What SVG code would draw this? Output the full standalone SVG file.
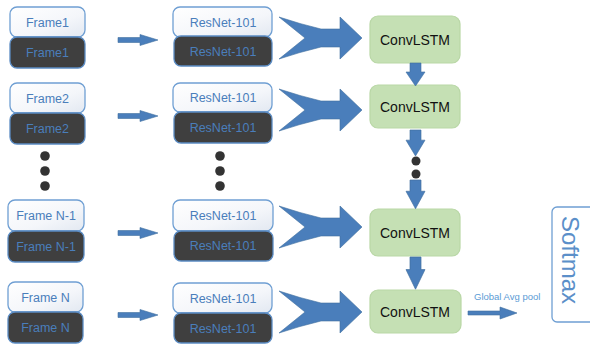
<svg xmlns="http://www.w3.org/2000/svg" width="590" height="345" viewBox="0 0 590 345">
<defs>
<linearGradient id="wg" x1="0" y1="0" x2="1" y2="1">
<stop offset="0" stop-color="#ffffff"/>
<stop offset="0.6" stop-color="#f4f6fa"/>
<stop offset="1" stop-color="#e2e8f1"/>
</linearGradient>
<path id="chev" d="M279,-21 Q300,-14 321,-9 L340,-9 L340,-21 L362,0 L340,21 L340,9 L321,9 Q300,14 279,21 L305,0 Z"/>
<path id="sarrow" d="M118,-2.5 L140,-2.5 L140,-5.5 L158,0 L140,5.5 L140,2.5 L118,2.5 Z"/>
<path id="varrow" d="M-5.5,0 L5.5,0 L5.5,9 L9.5,9 L0,23 L-9.5,9 L-5.5,9 Z"/>
</defs>
<style>
.wbox{fill:url(#wg);stroke:#6f9fd3;stroke-width:1.3}
.dbox{fill:#3f3f3f;stroke:#5b8cc4;stroke-width:1.3}
.lbl{font-family:"Liberation Sans",Arial,sans-serif;font-size:12.5px;fill:#4a7ebb;text-anchor:middle}
.conv{fill:#c5e0b4;stroke:#b9d7a6;stroke-width:1.2}
.clbl{font-family:"Liberation Sans",Arial,sans-serif;font-size:14px;fill:#111;text-anchor:middle}
.blue{fill:#4a7ebb;stroke:#41709f;stroke-width:0.6}
.dot{fill:#333}
</style>

<g id="frame1">
<rect class="wbox" x="10" y="7" width="75" height="30" rx="7"/>
<rect class="dbox" x="10" y="37" width="75" height="31" rx="7"/>
<text class="lbl" x="47.5" y="27">Frame1</text>
<text class="lbl" x="47.5" y="57">Frame1</text>
</g>
<g id="frame2">
<rect class="wbox" x="10" y="83" width="75" height="30" rx="7"/>
<rect class="dbox" x="10" y="113" width="75" height="31" rx="7"/>
<text class="lbl" x="47.5" y="103">Frame2</text>
<text class="lbl" x="47.5" y="133">Frame2</text>
</g>
<g id="frameN1">
<rect class="wbox" x="8" y="200" width="76" height="31" rx="7"/>
<rect class="dbox" x="8" y="231" width="76" height="31" rx="7"/>
<text class="lbl" x="46" y="220">Frame N-1</text>
<text class="lbl" x="46" y="251">Frame N-1</text>
</g>
<g id="frameN">
<rect class="wbox" x="8" y="282" width="75" height="30" rx="7"/>
<rect class="dbox" x="8" y="312" width="75" height="31" rx="7"/>
<text class="lbl" x="45.5" y="302">Frame N</text>
<text class="lbl" x="45.5" y="332">Frame N</text>
</g>

<g id="res1">
<rect class="wbox" x="173" y="7" width="99" height="30" rx="7"/>
<rect class="dbox" x="174" y="36" width="98" height="30" rx="7"/>
<text class="lbl" x="223" y="27">ResNet-101</text>
<text class="lbl" x="223" y="56">ResNet-101</text>
</g>
<g id="res2">
<rect class="wbox" x="173" y="83" width="99" height="29" rx="7"/>
<rect class="dbox" x="174" y="112" width="98" height="31" rx="7"/>
<text class="lbl" x="223" y="102">ResNet-101</text>
<text class="lbl" x="223" y="132">ResNet-101</text>
</g>
<g id="res3">
<rect class="wbox" x="173" y="200" width="100" height="31" rx="7"/>
<rect class="dbox" x="174" y="231" width="99" height="30" rx="7"/>
<text class="lbl" x="223" y="220">ResNet-101</text>
<text class="lbl" x="223" y="250">ResNet-101</text>
</g>
<g id="res4">
<rect class="wbox" x="173" y="283" width="99" height="30" rx="7"/>
<rect class="dbox" x="174" y="313" width="98" height="30" rx="7"/>
<text class="lbl" x="223" y="303">ResNet-101</text>
<text class="lbl" x="223" y="333">ResNet-101</text>
</g>

<g id="conv1">
<rect class="conv" x="370" y="16" width="90" height="47" rx="8"/>
<text class="clbl" x="415" y="45">ConvLSTM</text>
</g>
<g id="conv2">
<rect class="conv" x="370" y="85" width="90" height="43" rx="8"/>
<text class="clbl" x="415" y="112">ConvLSTM</text>
</g>
<g id="conv3">
<rect class="conv" x="370" y="209" width="90" height="47" rx="8"/>
<text class="clbl" x="415" y="238">ConvLSTM</text>
</g>
<g id="conv4">
<rect class="conv" x="370" y="290" width="91" height="43" rx="8"/>
<text class="clbl" x="415" y="317">ConvLSTM</text>
</g>

<g id="softmax">
<rect x="552" y="207" width="50" height="115" rx="5" fill="#fff" stroke="#6f9fd3" stroke-width="1.3"/>
<text x="570" y="260" transform="rotate(90 570 260)" font-family="'Liberation Sans',Arial,sans-serif" font-size="24" fill="#5b8fc9" text-anchor="middle" dominant-baseline="central">Softmax</text>
</g>

<g id="dots">
<circle class="dot" cx="45" cy="156" r="4.8"/>
<circle class="dot" cx="45" cy="171" r="4.8"/>
<circle class="dot" cx="45" cy="186" r="4.8"/>
<circle class="dot" cx="220" cy="156" r="4.8"/>
<circle class="dot" cx="220" cy="171" r="4.8"/>
<circle class="dot" cx="220" cy="186" r="4.8"/>
<circle class="dot" cx="416" cy="161" r="4.5"/>
<circle class="dot" cx="416" cy="174" r="4.5"/>
</g>

<g id="connectors">
<use href="#sarrow" class="blue" transform="translate(0,40)"/>
<use href="#sarrow" class="blue" transform="translate(0,116)"/>
<use href="#sarrow" class="blue" transform="translate(0,233)"/>
<use href="#sarrow" class="blue" transform="translate(0,315)"/>
<use href="#chev" class="blue" transform="translate(0,38)"/>
<use href="#chev" class="blue" transform="translate(0,110)"/>
<use href="#chev" class="blue" transform="translate(0,227)"/>
<use href="#chev" class="blue" transform="translate(0,312)"/>
<use href="#varrow" class="blue" transform="translate(415.5,63)"/>
<use href="#varrow" class="blue" transform="translate(415.5,130) scale(1,1.13)"/>
<use href="#varrow" class="blue" transform="translate(415.5,180) scale(1,1.25)"/>
<use href="#varrow" class="blue" transform="translate(415.5,257) scale(1,1.4)"/>
<path class="blue" d="M468,311 L500,311 L500,307 L517,313 L500,319 L500,315 L468,315 Z"/>
<text x="474" y="300" font-family="'Liberation Sans',Arial,sans-serif" font-size="9.5" fill="#5b9bd5">Global Avg pool</text>
</g>
</svg>
